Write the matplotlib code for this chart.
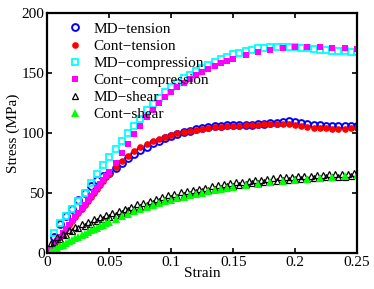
import matplotlib
matplotlib.use('Agg')
import matplotlib.pyplot as plt
import numpy as np

plt.rcParams['font.family'] = ['Liberation Serif', 'DejaVu Serif']

# MD data: every 0.005 strain
md_strain = np.linspace(0, 0.25, 51)
md_tension = [0, 13, 24, 31, 37, 44, 50, 56, 61, 64, 67, 71, 75, 79, 82.5, 85.5, 88.5, 91.5, 93.5, 95.5,
              97.5, 99.5, 101, 102, 103, 104, 105, 105.5, 106, 106.5, 106.5, 107, 107, 107, 107.5, 107.5,
              108, 108, 109, 110, 109.5, 108, 107.5, 107, 106.5, 106, 105.5, 105.5, 105.5, 105.5, 105.5]
md_compression = [0, 17, 25, 31, 37, 43, 50, 58, 66, 73, 80, 87, 93, 100, 106, 112, 119, 124, 129, 134,
                  138, 142, 145.5, 148.5, 151.5, 154.5, 157, 159.5, 161.5, 163.5, 165.5, 167, 168.5, 169.5,
                  170.5, 171, 171.5, 172, 172, 172, 171.5, 171, 170.5, 170, 169.5, 169, 168.5, 168, 168,
                  167.5, 167.5]

# MD shear: every 0.0025 strain
md_shear_strain = np.linspace(0, 0.25, 101)
md_shear = [0, 8.5, 9, 13, 12, 16, 15, 19, 18, 21.5,
            20.5, 24, 22.5, 26, 24.5, 28, 26.5, 30, 28, 31.5,
            30, 33.5, 32, 35, 33.5, 37, 35.5, 38.5, 37, 40.5,
            38.5, 42, 40, 43.5, 41.5, 45, 43, 46.5, 44.5, 48,
            46, 49.5, 47, 50.5, 48.5, 52, 49.5, 52.5, 50.5, 53.5,
            51.5, 54.5, 52.5, 55.5, 53.5, 56.5, 54.5, 57.5, 55.5, 58,
            56, 59, 57, 59.5, 57.5, 60, 58, 61, 58.5, 61,
            59, 62, 59.5, 62.5, 60, 63, 60.5, 63.5, 61, 63.5,
            61.5, 64, 62, 64.5, 62, 64.5, 62.5, 65, 62.5, 65,
            63, 65.5, 63, 65.5, 63.5, 66, 63.5, 66, 64, 66.5,
            65]

# Continuum data: fine steps at small strain
cont_strain = np.concatenate([np.linspace(0, 0.05, 21), np.linspace(0.055, 0.15, 20),
                              np.linspace(0.16, 0.25, 10)])
cont_compression = [0, 3.4, 6.8, 10.2, 13.6, 17, 20.3, 23.7, 27, 30.4, 33.7, 37.1, 40.4, 43.8, 47.1,
                    50.5, 53.8, 57.2, 60.5, 64, 67.5,
                    75, 83, 91, 99, 106, 113, 119.5, 125, 130, 134.5, 138.5, 142, 145, 148, 151, 153.5,
                    156, 158, 160, 162,
                    165, 167.5, 169.5, 171, 172, 172, 171.5, 171, 170.5, 170]
cont_shear = [0, 1.4, 2.8, 4.2, 5.6, 7, 8.3, 9.6, 11, 12.3, 13.6, 14.9, 16.2, 17.5, 18.8, 20, 21.2,
              22.4, 23.6, 24.8, 26,
              28.3, 30.5, 32.6, 34.6, 36.5, 38.3, 40, 41.6, 43.1, 44.5, 45.8, 47, 48.2, 49.3, 50.4,
              51.4, 52.4, 53.3, 54.2, 55,
              56.5, 57.8, 59, 60, 61, 61.9, 62.7, 63.4, 64, 64.6]

ten_strain = np.concatenate([np.linspace(0, 0.05, 21), np.linspace(0.055, 0.25, 40)])
cont_tension = [0, 3.4, 6.8, 10.2, 13.6, 17, 20.3, 23.7, 27, 30.4, 33.7, 37, 40.3, 43.6, 46.9, 50.2,
                53.4, 56.6, 59.8, 63, 66,
                72, 77, 81, 85, 88, 90.5, 93, 95, 97, 98.5,
                100, 101, 102, 102.8, 103.5, 104.1, 104.6, 105.1, 105.5, 105.9,
                106.2, 106.5, 106.7, 106.9, 107.1, 107.3, 107.4, 107.4, 107.2, 106.8,
                106, 105.2, 104.5, 104, 103.8, 103.7, 103.7, 103.7, 103.8, 103.8]

fig = plt.figure(figsize=(3.74, 2.89), dpi=100)
ax = fig.add_axes([0.127, 0.1246, 0.8275, 0.8305])

ax.plot(md_strain, md_tension, 'o', color='#0000FF', mfc='none', ms=4.9, mew=1.4, label='MD\u2212tension')
ax.plot(ten_strain, cont_tension, 'o', color='#FF0000', ms=4.8, mew=0, label='Cont\u2212tension')
ax.plot(md_strain, md_compression, 's', color='#00FFFF', mfc='none', ms=4.3, mew=1.3,
        label='MD\u2212compression')
ax.plot(cont_strain, cont_compression, 's', color='#FF00FF', ms=4.0, mew=0, label='Cont\u2212compression')
ax.plot(md_shear_strain, md_shear, '^', color='k', mfc='none', ms=4.3, mew=0.9, label='MD\u2212shear')
ax.plot(cont_strain, cont_shear, '^', color='#00FF00', ms=5.5, mew=0, label='Cont\u2212shear')

ax.set_xlim(0, 0.25)
ax.set_ylim(0, 200)
ax.set_xticks([0, 0.05, 0.1, 0.15, 0.2, 0.25])
ax.set_xticklabels(['0', '0.05', '0.1', '0.15', '0.2', '0.25'])
ax.set_yticks([0, 50, 100, 150, 200])
ax.tick_params(direction='in', top=True, right=True, length=3.5, width=1.2, labelsize=11, pad=2)
for s in ax.spines.values():
    s.set_linewidth(1.6)
ax.set_xlabel('Strain', fontsize=11, labelpad=-1)
ax.set_ylabel('Stress (MPa)', fontsize=11, labelpad=1)

ax.legend(loc='upper left', frameon=False, fontsize=11, handlelength=1.0, handletextpad=0.7,
          labelspacing=0.22, borderaxespad=0.2, bbox_to_anchor=(0.035, 1.0))

fig.savefig('out.png', dpi=100)
